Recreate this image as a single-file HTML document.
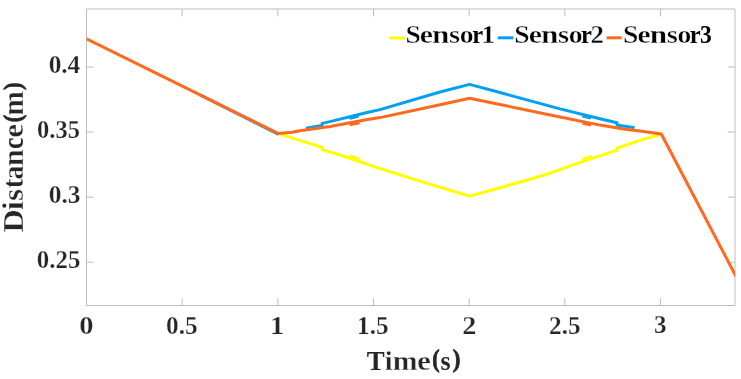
<!DOCTYPE html>
<html><head><meta charset="utf-8"><style>
html,body{margin:0;padding:0;background:#fff;overflow:hidden;}
svg{display:block;will-change:transform;}
text{font-family:"Liberation Serif",serif;font-weight:bold;stroke:#fff;stroke-width:0.4px;}
</style></head><body>
<svg width="741" height="379" viewBox="0 0 741 379">
<rect x="0" y="0" width="741" height="379" fill="#fff"/>
<defs><clipPath id="c"><rect x="86.5" y="9.0" width="648.5" height="296.5"/></clipPath></defs>
<path d="M86.5,9.0H735.0V305.5H86.5ZM182.17,305.5V298.3M182.17,9.0V16.2M277.83,305.5V298.3M277.83,9.0V16.2M373.50,305.5V298.3M373.50,9.0V16.2M469.16,305.5V298.3M469.16,9.0V16.2M564.83,305.5V298.3M564.83,9.0V16.2M660.49,305.5V298.3M660.49,9.0V16.2M86.5,67.00H93.7M735.0,67.00H727.8M86.5,132.07H93.7M735.0,132.07H727.8M86.5,197.14H93.7M735.0,197.14H727.8M86.5,262.21H93.7M735.0,262.21H727.8" fill="none" stroke="#BDBDBD" stroke-width="1"/>
<g clip-path="url(#c)">
<polyline points="278.5,133.6 322.1,147.4 322.1,149.6 340.0,155.0 380.0,168.5 420.0,181.1 450.0,190.3 469.5,196.1 500.0,187.7 530.0,179.2 550.0,173.2 578.0,163.2 610.0,152.4 617.0,150.2 617.0,148.2 640.0,140.4 661.3,134.0" fill="none" stroke="#FFFF00" stroke-width="3" stroke-linejoin="round" stroke-linecap="butt"/>
<polyline points="200.0,94.9 278.5,134.4" fill="none" stroke="#00A0F5" stroke-width="3" stroke-linejoin="round" stroke-linecap="butt"/>
<polyline points="349.5,156.0 359.0,159.2" fill="none" stroke="#FFFF00" stroke-width="3" stroke-linejoin="round" stroke-linecap="butt"/>
<polyline points="582.3,159.5 591.8,156.3" fill="none" stroke="#FFFF00" stroke-width="3" stroke-linejoin="round" stroke-linecap="butt"/>
<polyline points="307.2,128.0 322.1,125.6 322.1,123.4 330.0,121.6 366.0,112.7 380.0,109.6 440.0,92.0 469.6,84.4 500.0,92.5 560.0,108.9 600.0,118.7 617.0,122.8 617.0,124.9 625.0,126.2 633.3,127.5" fill="none" stroke="#00A0F5" stroke-width="3" stroke-linejoin="round" stroke-linecap="round"/>
<polyline points="349.5,118.4 358.5,116.2" fill="none" stroke="#00A0F5" stroke-width="3" stroke-linejoin="round" stroke-linecap="butt"/>
<polyline points="582.5,116.0 591.0,118.1" fill="none" stroke="#00A0F5" stroke-width="3" stroke-linejoin="round" stroke-linecap="butt"/>
<polyline points="86.5,38.9 278.5,133.6 292.0,132.2 300.0,130.7 330.0,126.5 366.0,119.8 380.0,117.6 440.0,104.7 469.6,98.3 500.0,104.5 560.0,117.0 600.0,125.1 625.0,129.2 640.0,131.0 661.3,134.0 735.0,274.5 745.0,293.5" fill="none" stroke="#FF6A1E" stroke-width="3" stroke-linejoin="round" stroke-linecap="butt"/>
<polyline points="349.5,124.7 359.5,122.8" fill="none" stroke="#FF6A1E" stroke-width="3" stroke-linejoin="round" stroke-linecap="butt"/>
<polyline points="582.5,123.4 591.0,125.1" fill="none" stroke="#FF6A1E" stroke-width="3" stroke-linejoin="round" stroke-linecap="butt"/>
</g>
<line x1="389" y1="37.9" x2="404.8" y2="37.9" stroke="#FFFF00" stroke-width="3"/>
<line x1="497.8" y1="37.8" x2="513.4" y2="37.8" stroke="#00A0F5" stroke-width="3"/>
<line x1="606.6" y1="37.8" x2="621.7" y2="37.8" stroke="#FF6A1E" stroke-width="3"/>
<text x="48.64" y="72.55" font-size="25.34" textLength="31.63" lengthAdjust="spacingAndGlyphs" fill="#262626" style="stroke-width:0.25px">0.4</text>
<text x="37.07" y="137.85" font-size="25.19" textLength="42.93" lengthAdjust="spacingAndGlyphs" fill="#262626" style="stroke-width:0.25px">0.35</text>
<text x="48.73" y="203.25" font-size="25.19" textLength="31.84" lengthAdjust="spacingAndGlyphs" fill="#262626" style="stroke-width:0.25px">0.3</text>
<text x="36.85" y="268.36" font-size="25.04" textLength="43.56" lengthAdjust="spacingAndGlyphs" fill="#262626" style="stroke-width:0.25px">0.25</text>
<text x="79.21" y="333.76" font-size="24.90" textLength="14.27" lengthAdjust="spacingAndGlyphs" fill="#262626" style="stroke-width:0.25px">0</text>
<text x="166.03" y="333.76" font-size="24.45" textLength="31.69" lengthAdjust="spacingAndGlyphs" fill="#262626" style="stroke-width:0.25px">0.5</text>
<text x="270.02" y="333.66" font-size="24.16" textLength="14.26" lengthAdjust="spacingAndGlyphs" fill="#262626" style="stroke-width:0.25px">1</text>
<text x="357.07" y="333.96" font-size="24.60" textLength="31.66" lengthAdjust="spacingAndGlyphs" fill="#262626" style="stroke-width:0.25px">1.5</text>
<text x="462.22" y="333.66" font-size="24.30" textLength="14.10" lengthAdjust="spacingAndGlyphs" fill="#262626" style="stroke-width:0.25px">2</text>
<text x="549.04" y="333.86" font-size="24.90" textLength="31.59" lengthAdjust="spacingAndGlyphs" fill="#262626" style="stroke-width:0.25px">2.5</text>
<text x="654.05" y="333.46" font-size="24.30" textLength="12.61" lengthAdjust="spacingAndGlyphs" fill="#262626" style="stroke-width:0.25px">3</text>
<text x="366.68" y="369.80" font-size="28.25" textLength="17.93" lengthAdjust="spacingAndGlyphs" fill="#262626" style="stroke:none">T</text>
<text x="384.77" y="369.80" font-size="28.25" textLength="7.95" lengthAdjust="spacingAndGlyphs" fill="#262626">i</text>
<text x="392.70" y="369.80" font-size="28.25" textLength="24.81" lengthAdjust="spacingAndGlyphs" fill="#262626">m</text>
<text x="417.13" y="369.80" font-size="28.25" textLength="13.88" lengthAdjust="spacingAndGlyphs" fill="#262626">e</text>
<text x="432.22" y="367.31" font-size="24.37" textLength="7.39" lengthAdjust="spacingAndGlyphs" fill="#262626" style="stroke:#262626;stroke-width:0.7px">(</text>
<text x="440.51" y="369.80" font-size="28.25" textLength="10.12" lengthAdjust="spacingAndGlyphs" fill="#262626" style="stroke:none">s</text>
<text x="452.86" y="367.31" font-size="24.37" textLength="7.65" lengthAdjust="spacingAndGlyphs" fill="#262626" style="stroke:#262626;stroke-width:0.7px">)</text>
<text transform="translate(20.92,90.04) rotate(-90)" font-size="24.81" textLength="7.44" lengthAdjust="spacingAndGlyphs" fill="#262626" style="stroke:#262626;stroke-width:0.7px">)</text>
<text transform="translate(23.34,115.39) rotate(-90)" font-size="28.40" textLength="24.39" lengthAdjust="spacingAndGlyphs" fill="#262626">m</text>
<text transform="translate(20.92,122.30) rotate(-90)" font-size="24.81" textLength="7.44" lengthAdjust="spacingAndGlyphs" fill="#262626" style="stroke:#262626;stroke-width:0.7px">(</text>
<text transform="translate(23.34,137.67) rotate(-90)" font-size="28.40" textLength="13.88" lengthAdjust="spacingAndGlyphs" fill="#262626">e</text>
<text transform="translate(23.34,149.08) rotate(-90)" font-size="28.40" textLength="11.42" lengthAdjust="spacingAndGlyphs" fill="#262626" style="stroke:none">c</text>
<text transform="translate(23.34,166.32) rotate(-90)" font-size="28.40" textLength="16.98" lengthAdjust="spacingAndGlyphs" fill="#262626">n</text>
<text transform="translate(23.34,179.59) rotate(-90)" font-size="28.40" textLength="13.81" lengthAdjust="spacingAndGlyphs" fill="#262626">a</text>
<text transform="translate(23.34,188.36) rotate(-90)" font-size="28.40" textLength="9.48" lengthAdjust="spacingAndGlyphs" fill="#262626">t</text>
<text transform="translate(23.34,200.94) rotate(-90)" font-size="28.40" textLength="12.10" lengthAdjust="spacingAndGlyphs" fill="#262626">s</text>
<text transform="translate(23.34,210.21) rotate(-90)" font-size="28.40" textLength="8.98" lengthAdjust="spacingAndGlyphs" fill="#262626">i</text>
<text transform="translate(23.34,232.47) rotate(-90)" font-size="28.40" textLength="23.35" lengthAdjust="spacingAndGlyphs" fill="#262626">D</text>
<text x="405.43" y="43.35" font-size="25.75" textLength="15.34" lengthAdjust="spacingAndGlyphs" fill="#000">S</text>
<text x="419.88" y="43.35" font-size="25.75" textLength="13.18" lengthAdjust="spacingAndGlyphs" fill="#000">e</text>
<text x="432.06" y="43.35" font-size="25.75" textLength="17.41" lengthAdjust="spacingAndGlyphs" fill="#000">n</text>
<text x="449.14" y="43.35" font-size="25.75" textLength="11.05" lengthAdjust="spacingAndGlyphs" fill="#000">s</text>
<text x="459.75" y="43.35" font-size="25.75" textLength="13.80" lengthAdjust="spacingAndGlyphs" fill="#000">o</text>
<text x="472.14" y="43.35" font-size="25.75" textLength="10.89" lengthAdjust="spacingAndGlyphs" fill="#000" style="stroke:none">r</text>
<text x="481.26" y="43.35" font-size="25.75" textLength="13.99" lengthAdjust="spacingAndGlyphs" fill="#000">1</text>
<text x="514.33" y="43.35" font-size="25.75" textLength="15.34" lengthAdjust="spacingAndGlyphs" fill="#000">S</text>
<text x="528.78" y="43.35" font-size="25.75" textLength="13.18" lengthAdjust="spacingAndGlyphs" fill="#000">e</text>
<text x="540.96" y="43.35" font-size="25.75" textLength="17.41" lengthAdjust="spacingAndGlyphs" fill="#000">n</text>
<text x="558.04" y="43.35" font-size="25.75" textLength="11.05" lengthAdjust="spacingAndGlyphs" fill="#000">s</text>
<text x="568.65" y="43.35" font-size="25.75" textLength="13.80" lengthAdjust="spacingAndGlyphs" fill="#000">o</text>
<text x="581.04" y="43.35" font-size="25.75" textLength="10.89" lengthAdjust="spacingAndGlyphs" fill="#000" style="stroke:none">r</text>
<text x="590.47" y="43.35" font-size="25.75" textLength="13.49" lengthAdjust="spacingAndGlyphs" fill="#000">2</text>
<text x="623.13" y="43.35" font-size="25.75" textLength="15.34" lengthAdjust="spacingAndGlyphs" fill="#000">S</text>
<text x="637.58" y="43.35" font-size="25.75" textLength="13.18" lengthAdjust="spacingAndGlyphs" fill="#000">e</text>
<text x="649.76" y="43.35" font-size="25.75" textLength="17.41" lengthAdjust="spacingAndGlyphs" fill="#000">n</text>
<text x="666.84" y="43.35" font-size="25.75" textLength="11.05" lengthAdjust="spacingAndGlyphs" fill="#000">s</text>
<text x="677.45" y="43.35" font-size="25.75" textLength="13.80" lengthAdjust="spacingAndGlyphs" fill="#000">o</text>
<text x="689.84" y="43.35" font-size="25.75" textLength="10.89" lengthAdjust="spacingAndGlyphs" fill="#000" style="stroke:none">r</text>
<text x="700.11" y="43.35" font-size="25.75" textLength="11.79" lengthAdjust="spacingAndGlyphs" fill="#000" style="stroke:none">3</text>
</svg>
</body></html>
